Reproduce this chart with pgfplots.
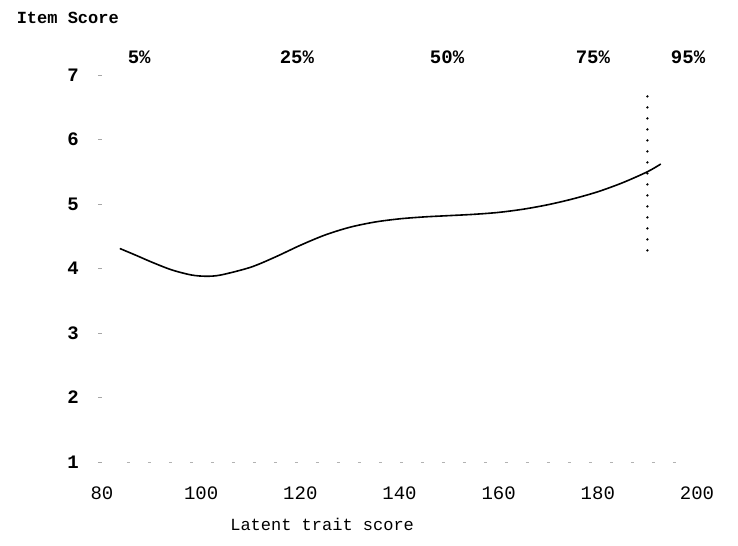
\documentclass[border=0pt]{standalone}
\usepackage{pgfplots}
\pgfplotsset{compat=1.18}
\usepackage{fontspec}
\setmainfont{Liberation Mono}
\begin{document}
\begin{tikzpicture}
\begin{axis}[
  scale only axis,
  width=595pt, height=387pt,
  xmin=80, xmax=200, ymin=1, ymax=7,
  clip=false,
  axis line style={draw=none},
  xtick={80,100,...,200},
  ytick={1,2,...,7},
  ytick pos=left,
  xtick pos=bottom,
  tick align=outside,
  major tick length=4pt,
  xtick style={draw=none},
  ytick style={draw=gray!70, line width=0.8pt},
  /pgf/number format/assume math mode=true,
  xticklabel style={font=\fontsize{19}{23}\selectfont, anchor=center, yshift=-27pt},
  yticklabel style={font=\fontsize{19}{23}\selectfont\bfseries, anchor=center, xshift=-25pt},
]
% invisible frame giving the picture its proportions
\draw[draw=none] (axis cs:59.43,-0.302) rectangle (axis cs:208.27,8.163);
% faint base row
\addplot[gray!60, line width=0.6pt, dash pattern=on 3pt off 18pt] coordinates {(85,1) (196,1)};
% fitted curve
\addplot[black, line width=1.6pt, smooth] coordinates {
(83.6,4.31) (87,4.20) (90,4.10) (94,3.98) (98,3.90) (101,3.88) (104,3.90)
(110,4.02) (115,4.18) (120,4.36) (125,4.52) (130,4.64) (135,4.72) (140,4.77)
(145,4.80) (150,4.82) (155,4.84) (160,4.87) (165,4.92) (170,4.99) (175,5.08)
(180,5.19) (185,5.33) (190,5.50) (192.7,5.62)};
% 95th percentile marker
\addplot[black, line width=2.6pt, line cap=round, dash pattern=on 0pt off 11pt] coordinates {(190,4.28) (190,6.72)};
% texts
\node[font=\fontsize{17}{21}\selectfont\bfseries] at (axis cs:73.1,7.88) {Item Score};
\node[font=\fontsize{19}{23}\selectfont\bfseries] at (axis cs:87.5,7.28) {5\%};
\node[font=\fontsize{19}{23}\selectfont\bfseries] at (axis cs:119.3,7.28) {25\%};
\node[font=\fontsize{19}{23}\selectfont\bfseries] at (axis cs:149.6,7.28) {50\%};
\node[font=\fontsize{19}{23}\selectfont\bfseries] at (axis cs:179.0,7.28) {75\%};
\node[font=\fontsize{19}{23}\selectfont\bfseries] at (axis cs:198.2,7.28) {95\%};
\node[font=\fontsize{17}{21}\selectfont] at (axis cs:124.4,0.04) {Latent trait score};
\end{axis}
\end{tikzpicture}
\end{document}
